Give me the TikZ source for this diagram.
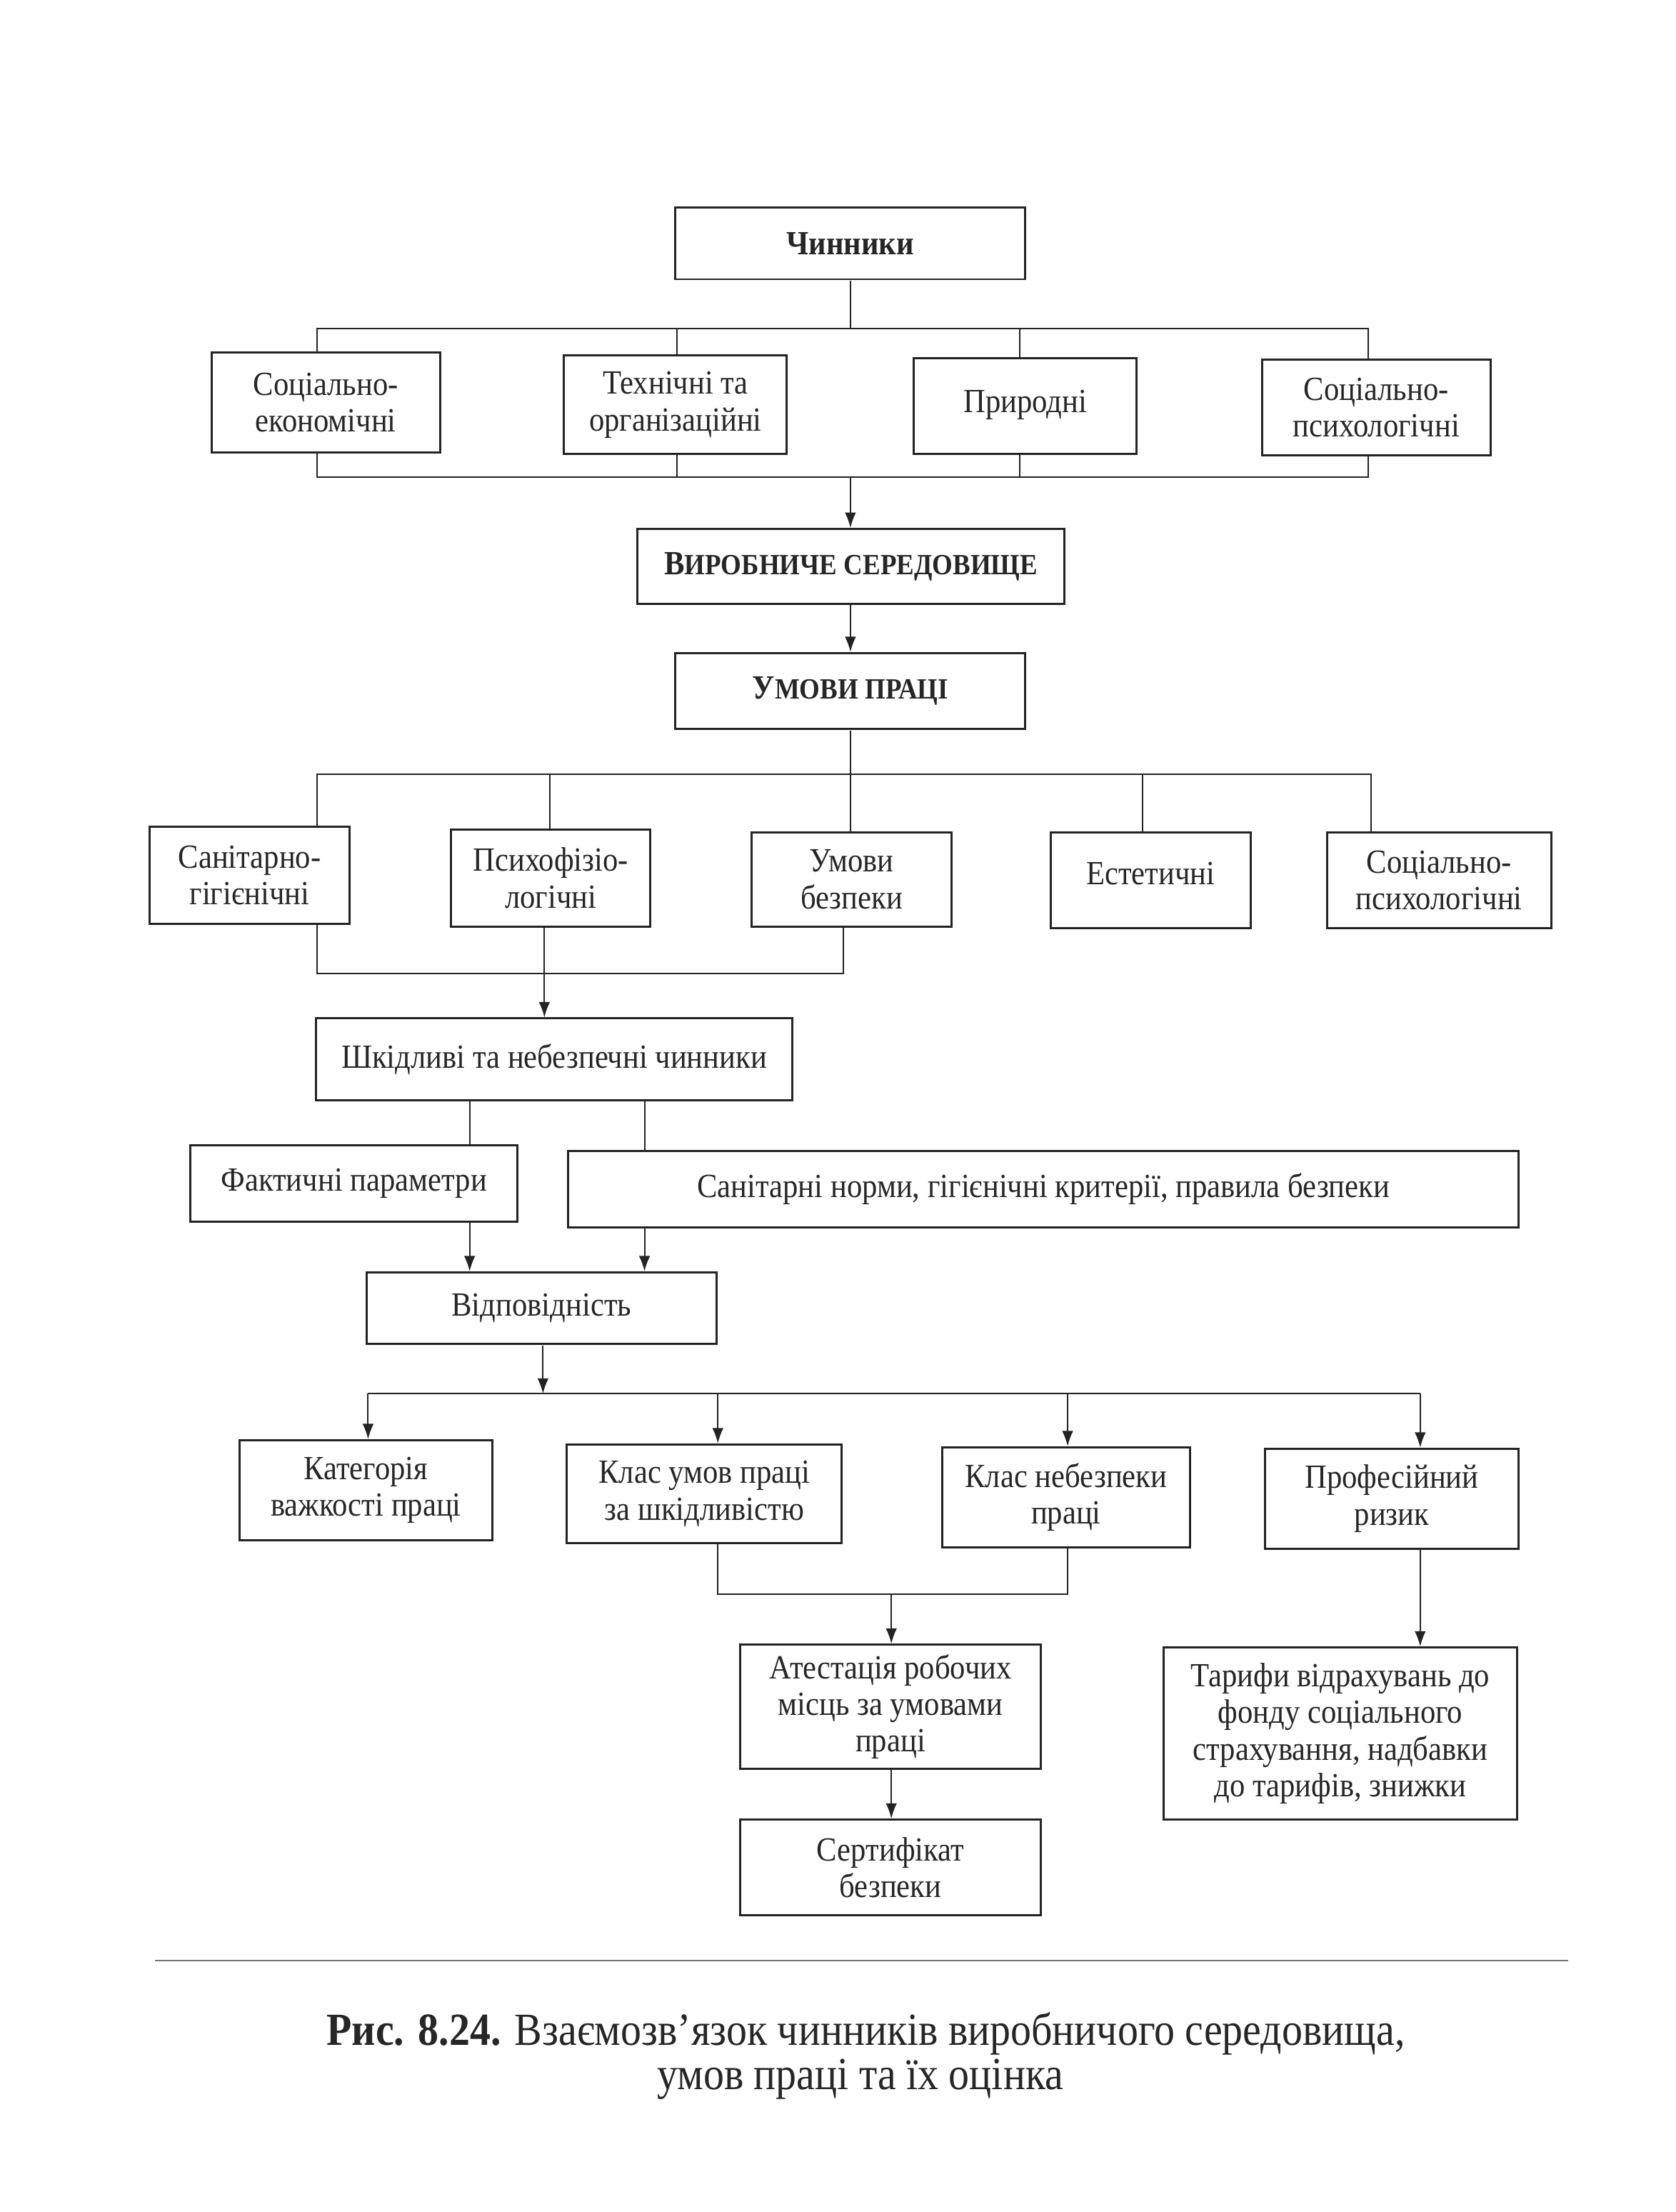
\documentclass[tikz,border=0pt]{standalone}
\usepackage{fontspec}
\setmainfont[FakeStretch=0.9]{Liberation Serif}
\usetikzlibrary{arrows.meta,calc}
\newcommand\fsc[2]{#1{\fontsize{10.4}{12}\selectfont #2}}
\begin{document}
\begin{tikzpicture}[x=0.5pt,y=-0.5pt,scale=1.01,transform shape,
  ink/.style={color={rgb,255:red,35;green,35;blue,35}},
  box/.style={ink,draw,line width=0.75pt,inner sep=2pt,align=center,
    font=\fontsize{12}{13}\selectfont,text=black!85},
  conn/.style={ink,line width=0.5pt},
  arr/.style={conn,-{Latex[length=5.5pt,width=4pt]}},
  captext/.style={font=\fontsize{16.3}{17}\selectfont,text=black!85,inner sep=0pt}]
\useasboundingbox (0,0) rectangle (1188.12,1568.32);
% level 1
\node[box,minimum width=124pt,minimum height=25.5pt] (chyn) at (603,172.5) {\textbf{Чинники}};
\node[box,minimum width=81pt,minimum height=35.5pt] (se) at (231,285.5) {Соціально-\\економічні};
\node[box,minimum width=79pt,minimum height=35pt] (to) at (479,287) {Технічні та\\організаційні};
\node[box,minimum width=79pt,minimum height=34pt] (pr) at (727,288) {\raisebox{3.5pt}{Природні}};
\node[box,minimum width=81pt,minimum height=34pt] (sp) at (976,289) {Соціально-\\психологічні};
\node[box,minimum width=151.5pt,minimum height=26.5pt] (vs) at (603.5,401.5) {\textbf{\fsc{В}{ИРОБНИЧЕ СЕРЕДОВИЩЕ}}};
\node[box,minimum width=124pt,minimum height=27pt] (up) at (603,490) {\textbf{\fsc{У}{МОВИ ПРАЦІ}}};
% level 2
\node[box,minimum width=71pt,minimum height=34.5pt] (sg) at (177,620.5) {Санітарно-\\гігієнічні};
\node[box,minimum width=70.5pt,minimum height=34.5pt] (pf) at (390.5,622.5) {Психофізіо-\\логічні};
\node[box,minimum width=71pt,minimum height=33.5pt] (ub) at (604,623.5) {Умови\\безпеки};
\node[box,minimum width=71pt,minimum height=34pt] (es) at (816,624) {\raisebox{5pt}{Естетичні}};
\node[box,minimum width=79.5pt,minimum height=34pt] (sp2) at (1020.5,624) {Соціально-\\психологічні};
\node[box,minimum width=169pt,minimum height=29pt] (sh) at (393,751) {Шкідливі та небезпечні чинники};
\node[box,minimum width=116pt,minimum height=27pt] (fp) at (251,839) {\raisebox{2pt}{Фактичні параметри}};
\node[box,minimum width=337pt,minimum height=27pt] (sn) at (740,843) {\raisebox{2pt}{Санітарні норми, гігієнічні критерії, правила безпеки}};
\node[box,minimum width=124pt,minimum height=25.5pt] (vid) at (384,927.5) {\raisebox{2.5pt}{Відповідність}};
% level 3
\node[box,minimum width=89.5pt,minimum height=35.5pt] (kv) at (259.5,1056.5) {Категорія\\важкості праці};
\node[box,minimum width=97.5pt,minimum height=35pt] (ku) at (499.5,1059) {Клас умов праці\\за шкідливістю};
\node[box,minimum width=88pt,minimum height=35.5pt] (kn) at (756,1061.5) {Клас небезпеки\\праці};
\node[box,minimum width=90pt,minimum height=35.5pt] (prr) at (987,1062.5) {Професійний\\ризик};
\node[box,minimum width=106.5pt,minimum height=44pt] (at) at (631.5,1210) {Атестація робочих\\місць за умовами\\праці};
\node[box,minimum width=106.5pt,minimum height=34pt] (ser) at (631.5,1324) {Сертифікат\\безпеки};
\node[box,minimum width=125.5pt,minimum height=61pt] (tar) at (950.5,1229) {Тарифи відрахувань до\\фонду соціального\\страхування, надбавки\\до тарифів, знижки};
% connectors: Чинники
\coordinate (t1) at (225,233); \coordinate (t2) at (480,233);
\coordinate (t3) at (723,233); \coordinate (t4) at (970,233);
\draw[conn] (chyn.south) -- (chyn.south |- t1);
\draw[conn] (se.north -| t1) -- (t1) -- (t4) -- (sp.north -| t4);
\draw[conn] (t2) -- (to.north -| t2);
\draw[conn] (t3) -- (pr.north -| t3);
\coordinate (u1) at (225,338); \coordinate (u2) at (480,338);
\coordinate (u3) at (723,338); \coordinate (u4) at (970,338);
\coordinate (uc) at (603,338);
\draw[conn] (se.south -| u1) -- (u1) -- (u4) -- (sp.south -| u4);
\draw[conn] (to.south -| u2) -- (u2);
\draw[conn] (pr.south -| u3) -- (u3);
\draw[arr] (uc) -- (vs.north -| uc);
\draw[arr] (vs.south -| uc) -- (up.north -| uc);
% Умови праці
\coordinate (m1) at (225,549); \coordinate (m2) at (390,549);
\coordinate (m3) at (603,549); \coordinate (m4) at (810,549);
\coordinate (m5) at (972,549);
\draw[conn] (up.south -| m3) -- (ub.north -| m3);
\draw[conn] (sg.north -| m1) -- (m1) -- (m5) -- (sp2.north -| m5);
\draw[conn] (m2) -- (pf.north -| m2);
\draw[conn] (m4) -- (es.north -| m4);
\coordinate (n1) at (225,690); \coordinate (n2) at (386,690);
\coordinate (n3) at (598,690);
\draw[conn] (sg.south -| n1) -- (n1) -- (n3) -- (ub.south -| n3);
\draw[conn] (pf.south -| n2) -- (n2);
\draw[arr] (n2) -- (sh.north -| n2);
% Шкідливі
\coordinate (k1) at (333,797); \coordinate (k2) at (457,797);
\draw[conn] (sh.south -| k1) -- (fp.north -| k1);
\draw[conn] (sh.south -| k2) -- (sn.north -| k2);
\draw[arr] (fp.south -| k1) -- (vid.north -| k1);
\draw[arr] (sn.south -| k2) -- (vid.north -| k2);
% Відповідність
\coordinate (r0) at (385,988); \coordinate (r1) at (261,988);
\coordinate (r2) at (509,988); \coordinate (r3) at (757,988);
\coordinate (r4) at (1007,988);
\draw[arr] (vid.south -| r0) -- (r0);
\draw[conn] (r1) -- (r4);
\draw[arr] (r1) -- (kv.north -| r1);
\draw[arr] (r2) -- (ku.north -| r2);
\draw[arr] (r3) -- (kn.north -| r3);
\draw[arr] (r4) -- (prr.north -| r4);
\coordinate (q1) at (509,1130); \coordinate (q2) at (757,1130);
\coordinate (qc) at (632,1130);
\draw[conn] (ku.south -| q1) -- (q1) -- (q2) -- (kn.south -| q2);
\draw[arr] (qc) -- (at.north -| qc);
\draw[arr] (at.south -| qc) -- (ser.north -| qc);
\draw[arr] (prr.south -| r4) -- (tar.north -| r4);
% separator and caption
\coordinate (sepl) at (110,1390); \coordinate (sepr) at (1112,1390);
\draw[color=black!55,line width=0.6pt] (sepl) -- (sepr);
\node[captext] (cap1) at (614,1442) {\textbf{Рис. 8.24.} Взаємозв’язок чинників виробничого середовища,};
\node[captext] (cap2) at (610,1474) {умов праці та їх оцінка};
\end{tikzpicture}
\end{document}
